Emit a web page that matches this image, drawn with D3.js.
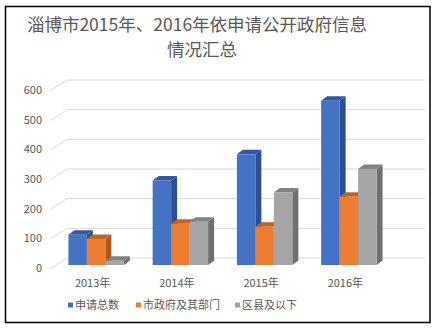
<!DOCTYPE html>
<html><head><meta charset="utf-8">
<script src="https://cdn.jsdelivr.net/npm/d3@7"></script>
<style>html,body{margin:0;padding:0;background:#fff;}svg{display:block;font-family:"Noto Sans CJK SC","Noto Sans",sans-serif;}</style>
</head><body>
<script>
const categories = ["2013年", "2014年", "2015年", "2016年"];
const seriesNames = ["申请总数", "市政府及其部门", "区县及以下"];
const totalRequests = [102, 285, 373, 554];
const cityDepts = [88, 139, 129, 230];
const districts = [14, 146, 244, 324];
const yTicks = [0, 100, 200, 300, 400, 500, 600];
const titleLines = ["淄博市2015年、2016年依申请公开政府信息", "情况汇总"];

const seriesValues = [totalRequests, cityDepts, districts];
const faceColors = [
  {front: "#4472C4", top: "#2F59A6", side: "#2C4F91"},
  {front: "#ED7D31", top: "#C4621F", side: "#B0561B"},
  {front: "#A5A5A5", top: "#828282", side: "#707070"}
];

const W = 434, H = 328;
const svg = d3.select("body").append("svg").attr("width", W).attr("height", H);

svg.append("rect").attr("x", 5.5).attr("y", 6.5).attr("width", 424.5).attr("height", 316)
  .attr("fill", "#fff").attr("stroke", "#000").attr("stroke-width", 1.5);

// title
svg.append("text").attr("x", 197).attr("y", 31).attr("text-anchor", "middle")
  .attr("font-size", 17.5).attr("fill", "#595959").text(titleLines[0]);
svg.append("text").attr("x", 202).attr("y", 56).attr("text-anchor", "middle")
  .attr("font-size", 17.5).attr("fill", "#595959").text(titleLines[1]);

// scales
const yBack = d3.scaleLinear().domain([0, 600]).range([258, 80]);
const yFront = d3.scaleLinear().domain([0, 600]).range([265, 87]);
const x0 = d3.scaleBand().domain(categories).range([54, 391]).paddingInner(0.342).paddingOuter(0.171);
const x1 = d3.scaleBand().domain(d3.range(seriesNames.length)).range([0, x0.bandwidth()]);

// gridlines (back wall + side diagonals)
const grid = svg.append("g");
yTicks.forEach(t => {
  const yb = yBack(t);
  grid.append("line").attr("x1", 67).attr("x2", 425).attr("y1", yb).attr("y2", yb)
    .attr("stroke", "#d9d9d9").attr("stroke-width", 1);
  grid.append("line").attr("x1", 50).attr("x2", 67).attr("y1", yb + 11).attr("y2", yb)
    .attr("stroke", "#d9d9d9").attr("stroke-width", 1);
  grid.append("text").attr("x", 42).attr("y", yb + 10).attr("dy", "0.35em")
    .attr("text-anchor", "end").attr("font-size", 11).attr("fill", "#595959").text(t);
});

// bars (3D)
const dx = 6, dy = 4.5;
categories.forEach((c, i) => {
  seriesValues.forEach((vals, s) => {
    const v = vals[i];
    const xa = x0(c) + x1(s), xb = xa + x1.bandwidth();
    const yt = yFront(v), yb = yFront(0);
    const g = svg.append("g");
    g.append("path").attr("d", `M${xb},${yt}L${xb + dx},${yt - dy}L${xb + dx},${yb - dy}L${xb},${yb}Z`)
      .attr("fill", faceColors[s].side);
    g.append("path").attr("d", `M${xa},${yt}L${xa + dx},${yt - dy}L${xb + dx},${yt - dy}L${xb},${yt}Z`)
      .attr("fill", faceColors[s].top);
    g.append("rect").attr("x", xa).attr("y", yt).attr("width", xb - xa).attr("height", yb - yt)
      .attr("fill", faceColors[s].front);
  });
});

// category labels
categories.forEach(c => {
  svg.append("text").attr("x", x0(c) + x0.bandwidth() / 2 - 3.5).attr("y", 283).attr("dy", "0.35em")
    .attr("text-anchor", "middle").attr("font-size", 11).attr("fill", "#595959").text(c);
});

// legend
const legendX = [68, 136, 235];
seriesNames.forEach((n, s) => {
  svg.append("rect").attr("x", legendX[s]).attr("y", 302.5).attr("width", 5).attr("height", 5)
    .attr("fill", faceColors[s].front);
  svg.append("text").attr("x", legendX[s] + 7).attr("y", 305).attr("dy", "0.35em")
    .attr("font-size", 11).attr("fill", "#595959").text(n);
});
</script>
</body></html>
